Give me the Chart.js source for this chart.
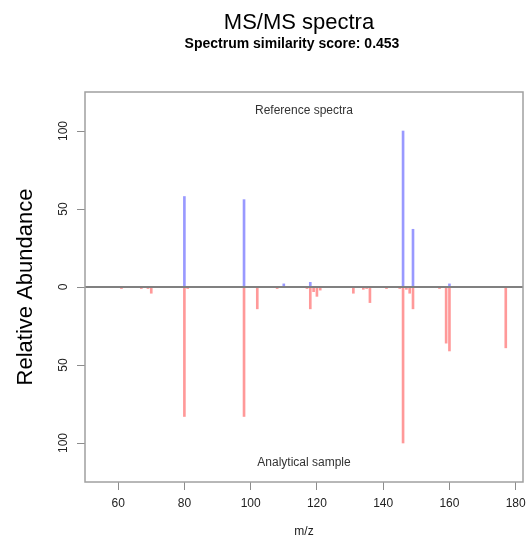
<!DOCTYPE html>
<html>
<head>
<meta charset="utf-8">
<title>MS/MS spectra</title>
<script src="https://cdn.jsdelivr.net/npm/chart.js@4.4.1/dist/chart.umd.min.js"></script>
<style>
  html, body { margin: 0; padding: 0; background: #fff; }
  #wrap { width: 529px; height: 547px; }
</style>
</head>
<body>
<div id="wrap"><canvas id="spectra" width="529" height="547"></canvas></div>
<script>
// Library spectrum peaks (m/z, relative abundance)
const refMz = [80, 98, 110, 118, 146, 149, 160];
const refAbundance = [58, 56, 2, 3, 100, 37, 2];

// Measured sample peaks, drawn mirrored below the axis
const sampleMz = [61, 67, 69, 70, 80, 81, 98, 102, 108, 117, 118, 119, 120, 121,
                  131, 134, 135, 136, 141, 145, 146, 147, 148, 149, 157, 159, 160, 177];
const sampleAbundance = [1, 1, 1, 4, 83, 1, 83, 14, 1, 1, 14, 3, 6, 2,
                         4, 1.5, 1, 10, 1, 1, 100, 1.5, 4, 14, 1, 36, 41, 39];

const xTicks = [60, 80, 100, 120, 140, 160, 180];
const yTicks = [-100, -50, 0, 50, 100];

const titleText = 'MS/MS spectra';
const scoreText = 'Spectrum similarity score: 0.453';

const FONT = "'Liberation Sans', Arial, Helvetica, sans-serif";

// Frame, zero line, panel captions and the two title lines
const spectraDecor = {
    id: 'spectraDecor',
    afterDatasetsDraw(chart) {
        const { ctx, chartArea: a, scales: { y } } = chart;
        ctx.save();

        const y0 = y.getPixelForValue(0);
        ctx.strokeStyle = '#808080';
        ctx.lineWidth = 2;
        ctx.beginPath();
        ctx.moveTo(a.left, y0);
        ctx.lineTo(a.right, y0);
        ctx.stroke();

        ctx.strokeStyle = '#a0a0a0';
        ctx.lineWidth = 1.5;
        ctx.strokeRect(a.left, a.top, a.right - a.left, a.bottom - a.top);

        const cx = (a.left + a.right) / 2;
        ctx.fillStyle = '#333';
        ctx.font = `12px ${FONT}`;
        ctx.textAlign = 'center';
        ctx.textBaseline = 'middle';
        ctx.fillText('Reference spectra', cx, a.top + 19);
        ctx.fillText('Analytical sample', cx, a.bottom - 19);

        ctx.fillStyle = '#000';
        ctx.font = `22px ${FONT}`;
        ctx.fillText(titleText, cx - 5, 23);
        ctx.font = `bold 14px ${FONT}`;
        ctx.fillText(scoreText, cx - 12, 44);
        ctx.restore();
    }
};

new Chart(document.getElementById('spectra'), {
    type: 'bar',
    data: {
        datasets: [
            {
                label: 'Reference spectra',
                data: refMz.map((m, i) => ({ x: m, y: refAbundance[i] })),
                backgroundColor: 'rgba(0, 0, 255, 0.4)',
                barThickness: 2,
                grouped: false
            },
            {
                label: 'Analytical sample',
                data: sampleMz.map((m, i) => ({ x: m, y: -sampleAbundance[i] })),
                backgroundColor: 'rgba(255, 0, 0, 0.4)',
                barThickness: 2,
                grouped: false
            }
        ]
    },
    options: {
        responsive: false,
        animation: false,
        layout: { padding: { top: 92, right: 6, left: 0, bottom: 0 } },
        plugins: {
            legend: { display: false },
            tooltip: { enabled: false }
        },
        scales: {
            x: {
                type: 'linear',
                min: 50,
                max: 182.2,
                offset: false,
                afterBuildTicks: s => { s.ticks = xTicks.map(v => ({ value: v })); },
                afterFit: s => {
                    s.height = 65;
                    // the "180" label may run past the frame, as in base R plots
                    s.paddingLeft = 0;
                    s.paddingRight = 0;
                },
                grid: { offset: false, drawOnChartArea: false, drawTicks: true, tickLength: 8, color: '#8c8c8c' },
                border: { display: false },
                ticks: {
                    color: '#222',
                    font: { family: FONT, size: 12 },
                    padding: 6,
                    maxRotation: 0,
                    minRotation: 0
                },
                title: {
                    display: true,
                    text: 'm/z',
                    color: '#222',
                    font: { family: FONT, size: 12 },
                    padding: { top: 0, bottom: 8 }
                }
            },
            y: {
                min: -125,
                max: 125,
                afterBuildTicks: s => { s.ticks = yTicks.map(v => ({ value: v })); },
                afterFit: s => {
                    s.width = 85;
                    s.paddingTop = 0;
                    s.paddingBottom = 0;
                },
                grid: { offset: false, drawOnChartArea: false, drawTicks: true, tickLength: 8, color: '#8c8c8c' },
                border: { display: false },
                ticks: {
                    color: '#222',
                    font: { family: FONT, size: 12 },
                    padding: 3,
                    crossAlign: 'center',
                    minRotation: 90,
                    maxRotation: 90,
                    callback: v => Math.abs(v)
                },
                title: {
                    display: true,
                    text: 'Relative Abundance',
                    color: '#000',
                    font: { family: FONT, size: 22 },
                    padding: { top: 13, bottom: 0 }
                }
            }
        }
    },
    plugins: [spectraDecor]
});
</script>
</body>
</html>
